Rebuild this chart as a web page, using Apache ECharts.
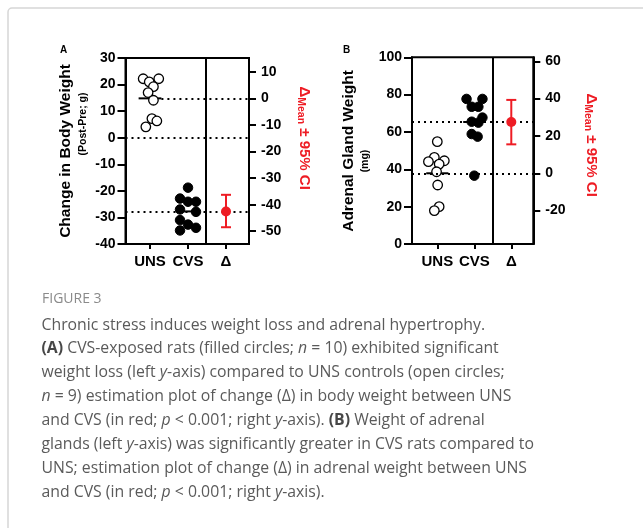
<!DOCTYPE html>
<html>
<head>
<meta charset="utf-8">
<title>Figure 3</title>
<script src="https://cdn.jsdelivr.net/npm/echarts@6.0.0/dist/echarts.min.js"></script>
<style>
  html, body { margin: 0; padding: 0; background: #fff; }
  #chart { width: 643px; height: 528px; }
</style>
</head>
<body>
<div id="chart"></div>
<script>
// x categories
const groups = ['UNS', 'CVS', 'Δ'];

// panel A: change in body weight (post-pre, g)
const unsWeight = [22.2, 21.0, 22.2, 19.2, 17.0, 14.1, 7.2, 6.3, 4.1];
const unsWeightJitter = [-0.18, -0.02, 0.23, 0.09, -0.05, 0.09, 0.05, 0.18, -0.11];
const cvsWeight = [-18.8, -22.9, -24.1, -24.1, -27.0, -27.9, -31.0, -32.7, -33.9, -34.9];
const cvsWeightJitter = [0, -0.21, 0, 0.21, -0.21, 0.21, -0.21, 0, 0.21, -0.21];
const weightDelta = [-42.6, -48.5, -36.3]; // mean diff, lower CI, upper CI
const weightRightTicks = [-50, -40, -30, -20, -10, 0, 10];

// panel B: adrenal gland weight (mg)
const unsAdrenal = [54.8, 46.4, 44.1, 44.6, 42.8, 38.7, 31.6, 20.0, 17.9];
const unsAdrenalJitter = [0, -0.08, -0.24, 0.19, 0.05, -0.02, 0.01, 0.05, -0.08];
const cvsAdrenal = [77.7, 77.7, 73.5, 73.5, 67.7, 65.5, 65.0, 58.9, 57.5, 36.6];
const cvsAdrenalJitter = [-0.21, 0.22, -0.07, 0.11, 0.22, -0.07, 0.11, -0.07, 0.09, 0];
const adrenalDelta = [27.5, 15.5, 39.3];
const adrenalRightTicks = [-20, 0, 20, 40, 60];

// caption
const captionTitle = 'FIGURE 3';
const captionLines = [
  'Chronic stress induces weight loss and adrenal hypertrophy.',
  '{b|(A)} CVS-exposed rats (filled circles; {i|n} = 10) exhibited significant',
  'weight loss (left {i|y}-axis) compared to UNS controls (open circles;',
  '{i|n} = 9) estimation plot of change (Δ) in body weight between UNS',
  'and CVS (in red; {i|p} < 0.001; right {i|y}-axis). {b|(B)} Weight of adrenal',
  'glands (left {i|y}-axis) was significantly greater in CVS rats compared to',
  'UNS; estimation plot of change (Δ) in adrenal weight between UNS',
  'and CVS (in red; {i|p} < 0.001; right {i|y}-axis).'
];

const FONT = "'Liberation Sans', Arial, sans-serif";
const RED = '#ee1c24';
const mean = arr => arr.reduce((s, v) => s + v, 0) / arr.length;

const chart = echarts.init(document.getElementById('chart'));

// one panel = one grid, one x axis, left + right y axis
const panels = [
  {
    grid: { left: 125.5, top: 58, width: 123.5, height: 186 },
    xMin: 0.355, xMax: 3.605, divider: 2.466,
    yMin: -40, yMax: 30, yInterval: 10,
    uns: unsWeight, unsJ: unsWeightJitter, cvs: cvsWeight, cvsJ: cvsWeightJitter,
    delta: weightDelta, rightTicks: weightRightTicks,
    unsLineStart: 1.3, zeroLine: true
  },
  {
    grid: { left: 412, top: 57.3, width: 121.3, height: 186.7 },
    xMin: 0.316, xMax: 3.595, divider: 2.505,
    yMin: 0, yMax: 100, yInterval: 20,
    uns: unsAdrenal, unsJ: unsAdrenalJitter, cvs: cvsAdrenal, cvsJ: cvsAdrenalJitter,
    delta: adrenalDelta, rightTicks: adrenalRightTicks,
    unsLineStart: null, zeroLine: false
  }
];

const grids = [], xAxes = [], yAxes = [], series = [];

const tickLabel = { color: '#000', fontSize: 14, fontWeight: 'bold', fontFamily: FONT };

panels.forEach((p, i) => {
  const unsMean = mean(p.uns);
  const cvsMean = mean(p.cvs);

  grids.push(Object.assign({
    show: true, borderColor: '#000', borderWidth: 2,
    backgroundColor: 'transparent', outerBoundsMode: 'none', containLabel: false
  }, p.grid));

  xAxes.push({
    type: 'value', gridIndex: i, min: p.xMin, max: p.xMax,
    axisLine: { show: true, onZero: false, lineStyle: { color: '#000', width: 2 } },
    axisTick: { show: true, customValues: [1, 2, 3], length: 5, lineStyle: { color: '#000', width: 2 } },
    axisLabel: {
      customValues: [1, 2, 3], margin: 10,
      formatter: v => groups[Math.round(v) - 1],
      color: '#000', fontSize: 15, fontWeight: 'bold', fontFamily: FONT
    },
    splitLine: { show: false }
  });

  yAxes.push({
    type: 'value', gridIndex: i, position: 'left',
    min: p.yMin, max: p.yMax, interval: p.yInterval,
    axisLine: { show: true, onZero: false, lineStyle: { color: '#000', width: 2 } },
    axisTick: { show: true, length: 8, lineStyle: { color: '#000', width: 2 } },
    axisLabel: Object.assign({ margin: 10, showMinLabel: true, showMaxLabel: true }, tickLabel),
    splitLine: { show: false }
  });

  // right axis: zero sits on the UNS mean
  yAxes.push({
    type: 'value', gridIndex: i, position: 'right',
    min: p.yMin - unsMean, max: p.yMax - unsMean,
    axisLine: { show: true, onZero: false, lineStyle: { color: '#000', width: 2 } },
    axisTick: { show: true, customValues: p.rightTicks, length: 7, lineStyle: { color: '#000', width: 2 } },
    axisLabel: Object.assign({ customValues: p.rightTicks, margin: 12 }, tickLabel),
    splitLine: { show: false }
  });

  const leftY = 2 * i, rightY = 2 * i + 1;

  // dotted reference lines + panel divider
  const dotted = { type: [2, 4], color: '#000', width: 2 };
  const lines = [
    { xAxis: p.divider, lineStyle: { type: 'solid', color: '#000', width: 2 } },
    [{ coord: [p.unsLineStart != null ? p.unsLineStart : p.xMin, unsMean], lineStyle: dotted },
     { coord: [p.xMax, unsMean] }],
    [{ coord: [p.xMin, cvsMean], lineStyle: dotted }, { coord: [p.xMax, cvsMean] }]
  ];
  if (p.zeroLine) {
    lines.push([{ coord: [p.xMin, 0], lineStyle: dotted }, { coord: [p.xMax, 0] }]);
  }
  series.push({
    type: 'line', xAxisIndex: i, yAxisIndex: leftY, data: [], z: 1,
    markLine: {
      silent: true, symbol: ['none', 'none'], label: { show: false },
      animation: false, data: lines
    }
  });

  // mean bars
  series.push({
    type: 'custom', xAxisIndex: i, yAxisIndex: leftY, z: 3,
    data: [[1, unsMean], [2, cvsMean]],
    renderItem: (params, api) => {
      const a = api.coord([api.value(0) - 0.3, api.value(1)]);
      const b = api.coord([api.value(0) + 0.3, api.value(1)]);
      return { type: 'line', shape: { x1: a[0], y1: a[1], x2: b[0], y2: b[1] },
               style: { stroke: '#000', lineWidth: 2 } };
    }
  });

  // individual animals
  series.push({
    name: 'UNS', type: 'scatter', xAxisIndex: i, yAxisIndex: leftY, z: 4,
    symbol: 'circle', symbolSize: 9.5,
    itemStyle: { color: '#fff', borderColor: '#000', borderWidth: 1.3, opacity: 1 },
    data: p.uns.map((v, k) => [1 + p.unsJ[k], v])
  });
  series.push({
    name: 'CVS', type: 'scatter', xAxisIndex: i, yAxisIndex: leftY, z: 4,
    symbol: 'circle', symbolSize: 9.5,
    itemStyle: { color: '#000', borderColor: '#000', borderWidth: 1, opacity: 1 },
    data: p.cvs.map((v, k) => [2 + p.cvsJ[k], v])
  });

  // estimation: mean difference with 95% CI on the right axis
  series.push({
    type: 'custom', xAxisIndex: i, yAxisIndex: rightY, z: 4,
    encode: { x: 0, y: [1, 2] },
    data: [[3, p.delta[1], p.delta[2]]],
    renderItem: (params, api) => {
      const lo = api.coord([api.value(0), api.value(1)]);
      const hi = api.coord([api.value(0), api.value(2)]);
      const w = 5;
      const st = { stroke: RED, lineWidth: 2 };
      return { type: 'group', children: [
        { type: 'line', shape: { x1: lo[0], y1: lo[1], x2: hi[0], y2: hi[1] }, style: st },
        { type: 'line', shape: { x1: lo[0] - w, y1: lo[1], x2: lo[0] + w, y2: lo[1] }, style: st },
        { type: 'line', shape: { x1: hi[0] - w, y1: hi[1], x2: hi[0] + w, y2: hi[1] }, style: st }
      ] };
    }
  });
  series.push({
    type: 'scatter', xAxisIndex: i, yAxisIndex: rightY, z: 5,
    symbol: 'circle', symbolSize: 10,
    itemStyle: { color: RED, opacity: 1 },
    data: [[3, p.delta[0]]]
  });
});

// text: titles, panel letters, caption
const bold = (size, fill) => ({ fontSize: size, fontWeight: 'bold', fontFamily: FONT, fill: fill || '#000' });
const txt = (x, y, text, style, rotation) => ({
  type: 'text', x, y, rotation: rotation || 0, silent: true,
  style: Object.assign({ text, align: 'center', verticalAlign: 'middle' }, style)
});

const redTitleStyle = {
  rich: {
    d: { fontSize: 15.5, fontWeight: 'bold', fontFamily: FONT, fill: RED, lineHeight: 17 },
    s: { fontSize: 10.5, fontWeight: 'bold', fontFamily: FONT, fill: RED, lineHeight: 11, verticalAlign: 'bottom' },
    t: { fontSize: 15, fontWeight: 'bold', fontFamily: FONT, fill: RED, lineHeight: 17 }
  }
};
const redTitle = '{d|Δ}{s|Mean}{t| ± 95% CI}';

const capFont = "'Open Sans', sans-serif";
const capSize = 15.8;
const capColor = '#5a5a5a';
const capRich = {
  b: { fontSize: capSize, fontWeight: 'bold', fontFamily: capFont, fill: '#474747' },
  i: { fontSize: capSize, fontStyle: 'italic', fontFamily: capFont, fill: capColor }
};

const graphics = [
  { type: 'rect', silent: true, shape: { x: 8, y: 8, width: 700, height: 600, r: 4 },
    style: { fill: 'none', stroke: '#d6d6d6', lineWidth: 1.5 } },
  txt(63.5, 50.3, 'A', bold(10)),
  txt(346.5, 50, 'B', bold(10)),
  txt(65.5, 151, 'Change in Body Weight', bold(15.5), Math.PI / 2),
  txt(83, 124, '(Post-Pre; g)', bold(10.5), Math.PI / 2),
  txt(348.5, 151, 'Adrenal Gland Weight', bold(15.5), Math.PI / 2),
  txt(365.5, 161, '(mg)', bold(10.5), Math.PI / 2),
  txt(304, 138, redTitle, redTitleStyle, -Math.PI / 2),
  txt(591, 145, redTitle, redTitleStyle, -Math.PI / 2),
  { type: 'text', x: 42, y: 299, silent: true,
    style: { text: captionTitle, fontSize: 14, fontFamily: capFont, fill: '#8a8a8a',
             align: 'left', verticalAlign: 'middle' } }
];
captionLines.forEach((line, k) => {
  graphics.push({
    type: 'text', x: 41.5, y: 325 + k * 23.95, silent: true,
    style: { text: line, fontSize: capSize, fontFamily: capFont, fill: capColor,
             align: 'left', verticalAlign: 'middle', rich: capRich }
  });
});

chart.setOption({
  animation: false,
  backgroundColor: '#fff',
  grid: grids,
  xAxis: xAxes,
  yAxis: yAxes,
  series: series,
  graphic: graphics
});

window.addEventListener('resize', () => chart.resize());
</script>
</body>
</html>
